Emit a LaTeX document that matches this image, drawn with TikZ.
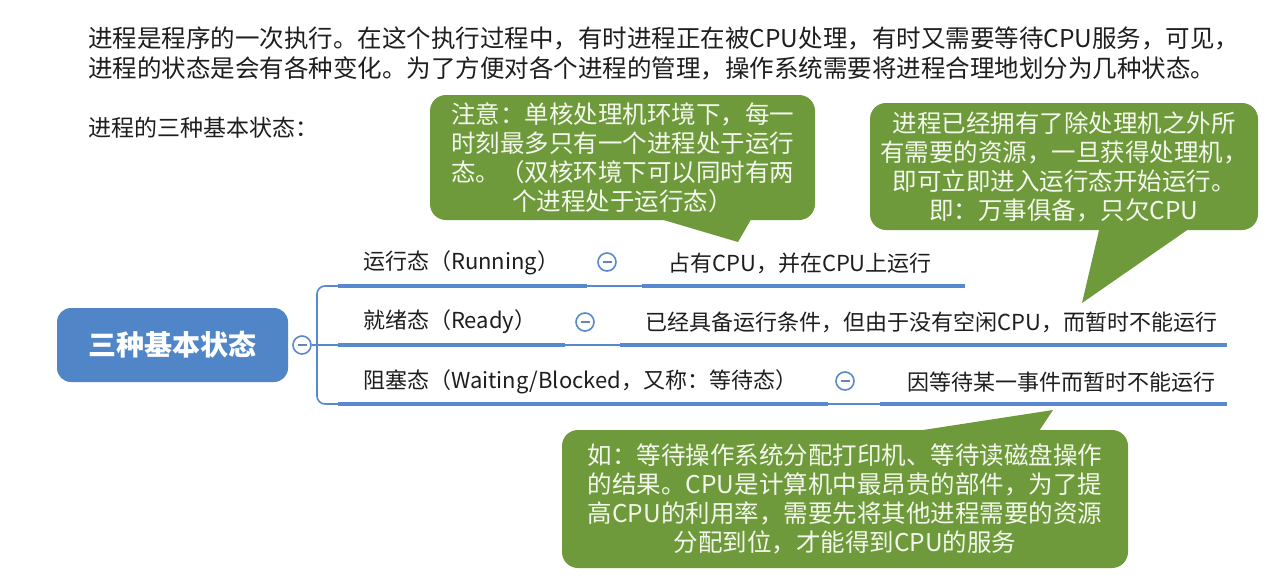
\documentclass[tikz,border=0pt]{standalone}
\usepackage{fontspec}
\newfontfamily\cjk{Noto Sans CJK SC}
\definecolor{bubblegreen}{RGB}{110,154,60}
\definecolor{bubbletext}{RGB}{244,248,236}
\definecolor{mapblue}{RGB}{88,137,204}
\definecolor{rootblue}{RGB}{80,134,199}
\definecolor{textdark}{RGB}{30,30,30}
\tikzset{
  bubble/.style={fill=bubblegreen, rounded corners=16pt, text=bubbletext, align=center,
    inner sep=0pt, font=\cjk\fontsize{24.5}{29}\selectfont},
  topic/.style={anchor=west, inner sep=0pt, text=textdark, font=\cjk\fontsize{22}{26}\selectfont},
  thickline/.style={draw=mapblue, line width=4.5pt},
  thinline/.style={draw=mapblue, line width=1.6pt},
  foldbtn/.style={circle, draw=mapblue, fill=white, line width=1.6pt, minimum size=18pt, inner sep=0pt},
  minusbar/.style={draw=mapblue!70!gray, line width=1.4pt},
}
\begin{document}
\begin{tikzpicture}[x=1pt,y=-1pt]
\useasboundingbox[fill=white] (0,0) rectangle (1280,582);

% intro text
\node[anchor=west, inner sep=0pt, align=left, text=textdark,
      font=\cjk\fontsize{24.5}{30}\selectfont] (intro) at (88,53)
  {进程是程序的一次执行。在这个执行过程中，有时进程正在被CPU处理，有时又需要等待CPU服务，可见，\\
   进程的状态是会有各种变化。为了方便对各个进程的管理，操作系统需要将进程合理地划分为几种状态。};
\node[anchor=west, inner sep=0pt, text=textdark, font=\cjk\fontsize{23}{28}\selectfont] (three) at (88,128)
  {进程的三种基本状态：};

% root
\node[fill=rootblue, rounded corners=14pt, minimum width=231pt, minimum height=74pt,
      text=white, font=\cjk\bfseries\fontsize{28}{32}\selectfont] (root) at (172.5,345) {三种基本状态};
\node[foldbtn] (f0) at (302,345) {};
\draw[minusbar] ([xshift=-4.5pt]f0.center) -- ([xshift=4.5pt]f0.center);

% bracket
\coordinate (bt) at (338,286);
\coordinate (bm) at (338,345);
\coordinate (bb) at (338,404);
\draw[thinline] (f0.east) -- (bm);
\draw[thinline, rounded corners=8pt] (bt) -- (317,286) -- (317,404) -- (bb);

% topics
\node[topic] (run) at (363,263) {运行态（Running）};
\node[topic] (ready) at (363,322) {就绪态（Ready）};
\node[topic] (block) at (363,382) {阻塞态（Waiting/Blocked，又称：等待态）};
\node[topic] (runD) at (668,263) {占有CPU，并在CPU上运行};
\node[topic] (readyD) at (645,322) {已经具备运行条件，但由于没有空闲CPU，而暂时不能运行};
\node[topic] (blockD) at (907,382) {因等待某一事件而暂时不能运行};

% underlines and connectors
\coordinate (r1e) at (587,286);  \coordinate (d1s) at (642,286); \coordinate (d1e) at (965,286);
\coordinate (r2e) at (565,345);  \coordinate (d2s) at (620,345); \coordinate (d2e) at (1227,345);
\coordinate (r3e) at (828,404);  \coordinate (d3s) at (880,404); \coordinate (d3e) at (1227,404);
\draw[thickline] (bt) -- (r1e);
\draw[thickline] (bm) -- (r2e);
\draw[thickline] (bb) -- (r3e);
\draw[thinline] (r1e) -- (d1s);
\draw[thinline] (r2e) -- (d2s);
\draw[thinline] (r3e) -- (d3s);
\draw[thickline] (d1s) -- (d1e);
\draw[thickline] (d2s) -- (d2e);
\draw[thickline] (d3s) -- (d3e);

% fold buttons
\node[foldbtn] (f1) at (607,262) {};
\node[foldbtn] (f2) at (585,322) {};
\node[foldbtn] (f3) at (845,381) {};
\foreach \f in {f1,f2,f3}{
  \draw[minusbar] ([xshift=-4.5pt]\f.center) -- ([xshift=4.5pt]\f.center);
}

% bubble 1
\node[bubble, minimum width=385pt, minimum height=125pt] (note1) at (622.5,157.5)
  {注意：单核处理机环境下，每一\\时刻最多只有一个进程处于运行\\态。（双核环境下可以同时有两\\个进程处于运行态）};
\coordinate (t1a) at (650,216); \coordinate (t1tip) at (738,242); \coordinate (t1b) at (753,216);
\fill[bubblegreen] (t1a) -- (t1tip) -- (t1b) -- cycle;

% bubble 2
\node[bubble, minimum width=388pt, minimum height=127pt] (note2) at (1064,166.5)
  {进程已经拥有了除处理机之外所\\有需要的资源，一旦获得处理机，\\即可立即进入运行态开始运行。\\即：万事俱备，只欠CPU};
\coordinate (t2a) at (1100,226); \coordinate (t2tip) at (1082,303); \coordinate (t2b) at (1193,226);
\fill[bubblegreen] (t2a) -- (t2tip) -- (t2b) -- cycle;

% bubble 3
\node[bubble, minimum width=566pt, minimum height=138pt] (note3) at (845,499)
  {如：等待操作系统分配打印机、等待读磁盘操作\\的结果。CPU是计算机中最昂贵的部件，为了提\\高CPU的利用率，需要先将其他进程需要的资源\\分配到位，才能得到CPU的服务};
\coordinate (t3a) at (897,434); \coordinate (t3tip) at (1053,410); \coordinate (t3b) at (1037,434);
\fill[bubblegreen] (t3a) -- (t3tip) -- (t3b) -- cycle;
\end{tikzpicture}
\end{document}
